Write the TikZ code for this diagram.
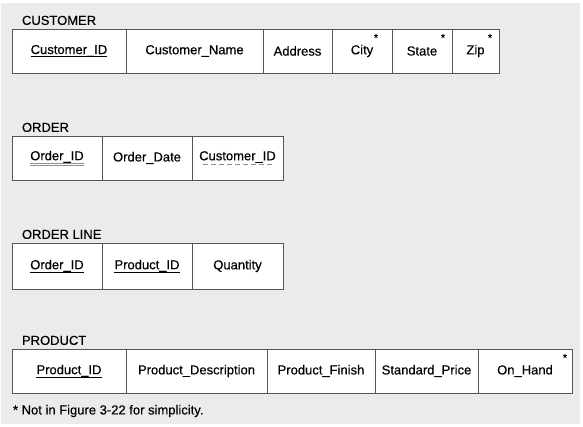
\documentclass[tikz,border=0pt]{standalone}
\usepackage{fontspec}
\setmainfont{Liberation Sans}[FakeBold=0.4]
\usepackage[]{xcolor}
\usetikzlibrary{positioning}

\definecolor{bggray}{HTML}{EBEBEB}
\definecolor{rulegray}{HTML}{555555}
\definecolor{keygray}{HTML}{8E8E8E}

% key markers
\newsavebox{\keybox}
\newcommand{\pkey}[1]{\sbox{\keybox}{#1}\rlap{\rule[-3pt]{\wd\keybox}{0.7pt}}\usebox{\keybox}}
\newcommand{\pkeyd}[1]{\sbox{\keybox}{#1}\rlap{\color{keygray}\rule[-3pt]{\wd\keybox}{0.7pt}}\rlap{\color{keygray}\rule[-5pt]{\wd\keybox}{0.7pt}}\usebox{\keybox}}
\newcommand{\fkey}[1]{\sbox{\keybox}{#1}\rlap{\color{keygray}\hbox to \wd\keybox{\cleaders\hbox{\hskip1.5pt\rule[-4.5pt]{5pt}{1.2pt}\hskip1.5pt}\hfil}}\usebox{\keybox}}

\begin{document}
\begin{tikzpicture}[
            x=1pt, y=-1pt,
            font=\fontsize{13}{15}\selectfont,
            cell/.style={rectangle, draw=rulegray, line width=0.8pt, fill=white, minimum height=44pt, inner sep=0pt, outer sep=0pt, anchor=west},
            tabletitle/.style={inner sep=0pt, outer sep=0pt},
            starnote/.style={inner sep=0pt, outer sep=0pt, anchor=north, font=\fontsize{11}{11}\selectfont}
        ]
            \useasboundingbox (0,0) rectangle (583,427);
            \fill[bggray] (1,3) rectangle (580,424);

            % CUSTOMER
            \node[cell, minimum width=114pt] (custID) at (12,51) {\pkey{Customer\_ID}};
            \node[cell, minimum width=137pt, right=0pt of custID] (custName) {Customer\_Name};
            \node[cell, minimum width=69pt, right=0pt of custName] (custAddr) {Address};
            \node[cell, minimum width=60pt, right=0pt of custAddr] (custCity) {City};
            \node[cell, minimum width=60pt, right=0pt of custCity] (custState) {State};
            \node[cell, minimum width=47pt, right=0pt of custState] (custZip) {Zip};
            \node[tabletitle, above right=4pt and 10pt of custID.north west] (tCust) {CUSTOMER};

            % ORDER
            \node[cell, minimum width=90pt] (ordID) at (12,158) {\pkeyd{Order\_ID}};
            \node[cell, minimum width=90pt, right=0pt of ordID] (ordDate) {Order\_Date};
            \node[cell, minimum width=91pt, right=0pt of ordDate] (ordCust) {\fkey{Customer\_ID}};
            \node[tabletitle, above right=4pt and 10pt of ordID.north west] (tOrder) {ORDER};

            % ORDER LINE
            \node[cell, minimum width=90pt, minimum height=46pt] (olOrd) at (12,266) {\pkey{Order\_ID}};
            \node[cell, minimum width=90pt, minimum height=46pt, right=0pt of olOrd] (olProd) {\pkey{Product\_ID}};
            \node[cell, minimum width=91pt, minimum height=46pt, right=0pt of olProd] (olQty) {Quantity};
            \node[tabletitle, above right=4pt and 10pt of olOrd.north west] (tLine) {ORDER LINE};

            % PRODUCT
            \node[cell, minimum width=114pt] (prodID) at (12,371) {\pkey{Product\_ID}};
            \node[cell, minimum width=141pt, right=0pt of prodID] (prodDesc) {Product\_Description};
            \node[cell, minimum width=108pt, right=0pt of prodDesc] (prodFin) {Product\_Finish};
            \node[cell, minimum width=103pt, right=0pt of prodFin] (prodPrice) {Standard\_Price};
            \node[cell, minimum width=94pt, right=0pt of prodPrice] (prodHand) {On\_Hand};
            \node[tabletitle, above right=4pt and 10pt of prodID.north west] (tProd) {PRODUCT};

            % asterisks
            \node[starnote] (sCity) at ([xshift=-16pt,yshift=-5pt]custCity.north east) {*};
            \node[starnote] (sState) at ([xshift=-9pt,yshift=-5pt]custState.north east) {*};
            \node[starnote] (sZip) at ([xshift=-9pt,yshift=-5pt]custZip.north east) {*};
            \node[starnote] (sHand) at ([xshift=-7pt,yshift=-5pt]prodHand.north east) {*};

            \node[tabletitle, below right=12pt and 1pt of prodID.south west] (note) {* Not in Figure 3-22 for simplicity.};
        \end{tikzpicture}
\end{document}
